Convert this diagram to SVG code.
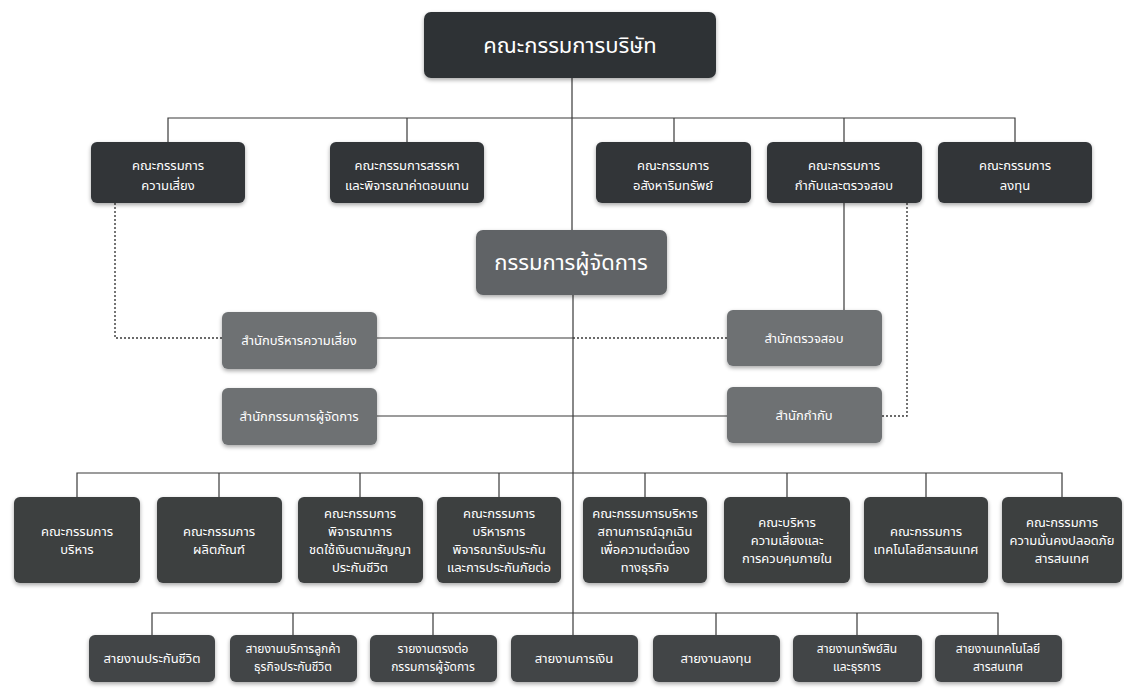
<svg xmlns="http://www.w3.org/2000/svg" width="1124" height="689" viewBox="0 0 1124 689">
<defs>
<filter id="sh" x="-10%" y="-15%" width="120%" height="135%">
<feGaussianBlur in="SourceAlpha" stdDeviation="2"/>
<feOffset dx="0" dy="2" result="b"/>
<feComponentTransfer><feFuncA type="linear" slope="0.35"/></feComponentTransfer>
<feMerge><feMergeNode/><feMergeNode in="SourceGraphic"/></feMerge>
</filter>
</defs>
<style>
text{font-family:"Noto Sans Thai","Noto Sans","DejaVu Sans",sans-serif;fill:#ffffff;text-anchor:middle;}
.b0{fill:#2f3336;filter:url(#sh);}
.b1{fill:#303437;filter:url(#sh);}
.bm{fill:#616466;filter:url(#sh);}
.bo{fill:#6e7173;filter:url(#sh);}
.b3{fill:#3c3f41;filter:url(#sh);}
.b4{fill:#424547;filter:url(#sh);}
.t{font-size:13px;}
.ts{font-size:12px;}
.tl{font-size:22px;}
.ln{stroke:#3a3a3a;stroke-width:1.2;fill:none;}
.dt{stroke:#3a3a3a;stroke-width:1.4;fill:none;stroke-dasharray:2 2;}
</style>
<rect width="1124" height="689" fill="#ffffff"/>
<g id="connectors">
<path class="ln" d="M572 78 V230 M573 295 V635"/>
<path class="ln" d="M168 142 V118 H1015 V142 M407 118 V142 M674 118 V142 M844 118 V142"/>
<path class="ln" d="M844 203 V310"/>
<path class="dt" d="M115 203 V338 H222"/>
<path class="ln" d="M377 338 H573"/>
<path class="dt" d="M573 338 H727"/>
<path class="ln" d="M377 416 H727"/>
<path class="dt" d="M907 203 V416 H882"/>
<path class="ln" d="M77 497 V473 H1062 V497 M219 473 V497 M360 473 V497 M499 473 V497 M645 473 V497 M787 473 V497 M926 473 V497"/>
<path class="ln" d="M152 635 V613 H998 V635 M293 613 V635 M433 613 V635 M716 613 V635 M857 613 V635"/>
</g>
<g id="board"><rect class="b0" x="424" y="12" width="292" height="66" rx="7"/><text class="tl" x="570" y="53">คณะกรรมการบริษัท</text></g>
<g id="c-risk"><rect class="b1" x="91" y="142" width="154" height="61" rx="6"/><text class="t" x="168" y="170">คณะกรรมการ</text><text class="t" x="168" y="190">ความเสี่ยง</text></g>
<g id="c-nom"><rect class="b1" x="330" y="142" width="154" height="61" rx="6"/><text class="t" x="407" y="170">คณะกรรมการสรรหา</text><text class="t" x="407" y="190">และพิจารณาค่าตอบแทน</text></g>
<g id="c-prop"><rect class="b1" x="596" y="142" width="155" height="61" rx="6"/><text class="t" x="673" y="170">คณะกรรมการ</text><text class="t" x="673" y="190">อสังหาริมทรัพย์</text></g>
<g id="c-audit"><rect class="b1" x="767" y="142" width="155" height="61" rx="6"/><text class="t" x="844" y="170">คณะกรรมการ</text><text class="t" x="844" y="190">กำกับและตรวจสอบ</text></g>
<g id="c-inv"><rect class="b1" x="938" y="142" width="154" height="61" rx="6"/><text class="t" x="1015" y="170">คณะกรรมการ</text><text class="t" x="1015" y="190">ลงทุน</text></g>
<g id="md"><rect class="bm" x="476" y="230" width="191" height="65" rx="7"/><text class="tl" x="571" y="270">กรรมการผู้จัดการ</text></g>
<g id="o-risk"><rect class="bo" x="222" y="312" width="155" height="57" rx="6"/><text class="t" x="299" y="345">สำนักบริหารความเสี่ยง</text></g>
<g id="o-md"><rect class="bo" x="222" y="388" width="155" height="57" rx="6"/><text class="t" x="299" y="421">สำนักกรรมการผู้จัดการ</text></g>
<g id="o-audit"><rect class="bo" x="727" y="310" width="155" height="56" rx="6"/><text class="t" x="804" y="343">สำนักตรวจสอบ</text></g>
<g id="o-comp"><rect class="bo" x="727" y="387" width="155" height="56" rx="6"/><text class="t" x="804" y="420">สำนักกำกับ</text></g>
<g id="r3-1"><rect class="b3" x="14" y="497" width="126" height="86" rx="6"/><text class="t" x="77" y="536">คณะกรรมการ</text><text class="t" x="77" y="554">บริหาร</text></g>
<g id="r3-2"><rect class="b3" x="157" y="497" width="125" height="86" rx="6"/><text class="t" x="219" y="536">คณะกรรมการ</text><text class="t" x="219" y="554">ผลิตภัณฑ์</text></g>
<g id="r3-3"><rect class="b3" x="298" y="497" width="125" height="86" rx="6"/><text class="t" x="360" y="518">คณะกรรมการ</text><text class="t" x="360" y="536">พิจารณาการ</text><text class="t" x="360" y="554">ชดใช้เงินตามสัญญา</text><text class="t" x="360" y="572">ประกันชีวิต</text></g>
<g id="r3-4"><rect class="b3" x="437" y="497" width="124" height="86" rx="6"/><text class="t" x="499" y="518">คณะกรรมการ</text><text class="t" x="499" y="536">บริหารการ</text><text class="t" x="499" y="554">พิจารณารับประกัน</text><text class="t" x="499" y="572">และการประกันภัยต่อ</text></g>
<g id="r3-5"><rect class="b3" x="583" y="497" width="124" height="86" rx="6"/><text class="t" x="645" y="518">คณะกรรมการบริหาร</text><text class="t" x="645" y="536">สถานการณ์ฉุกเฉิน</text><text class="t" x="645" y="554">เพื่อความต่อเนื่อง</text><text class="t" x="645" y="572">ทางธุรกิจ</text></g>
<g id="r3-6"><rect class="b3" x="724" y="497" width="126" height="86" rx="6"/><text class="t" x="787" y="527">คณะบริหาร</text><text class="t" x="787" y="545">ความเสี่ยงและ</text><text class="t" x="787" y="563">การควบคุมภายใน</text></g>
<g id="r3-7"><rect class="b3" x="864" y="497" width="124" height="86" rx="6"/><text class="t" x="926" y="536">คณะกรรมการ</text><text class="t" x="926" y="554">เทคโนโลยีสารสนเทศ</text></g>
<g id="r3-8"><rect class="b3" x="1002" y="497" width="120" height="86" rx="6"/><text class="t" x="1062" y="527">คณะกรรมการ</text><text class="t" x="1062" y="545">ความมั่นคงปลอดภัย</text><text class="t" x="1062" y="563">สารสนเทศ</text></g>
<g id="r4-1"><rect class="b4" x="89" y="635" width="126" height="47" rx="6"/><text class="t" x="152" y="663">สายงานประกันชีวิต</text></g>
<g id="r4-2"><rect class="b4" x="230" y="635" width="127" height="47" rx="6"/><text class="ts" x="293" y="653">สายงานบริการลูกค้า</text><text class="ts" x="293" y="671">ธุรกิจประกันชีวิต</text></g>
<g id="r4-3"><rect class="b4" x="370" y="635" width="127" height="47" rx="6"/><text class="ts" x="433" y="653">รายงานตรงต่อ</text><text class="ts" x="433" y="671">กรรมการผู้จัดการ</text></g>
<g id="r4-4"><rect class="b4" x="511" y="635" width="127" height="47" rx="6"/><text class="t" x="574" y="663">สายงานการเงิน</text></g>
<g id="r4-5"><rect class="b4" x="653" y="635" width="127" height="47" rx="6"/><text class="t" x="716" y="663">สายงานลงทุน</text></g>
<g id="r4-6"><rect class="b4" x="793" y="635" width="129" height="47" rx="6"/><text class="ts" x="857" y="653">สายงานทรัพย์สิน</text><text class="ts" x="857" y="671">และธุรการ</text></g>
<g id="r4-7"><rect class="b4" x="935" y="635" width="127" height="47" rx="6"/><text class="ts" x="998" y="653">สายงานเทคโนโลยี</text><text class="ts" x="998" y="671">สารสนเทศ</text></g>
</svg>
